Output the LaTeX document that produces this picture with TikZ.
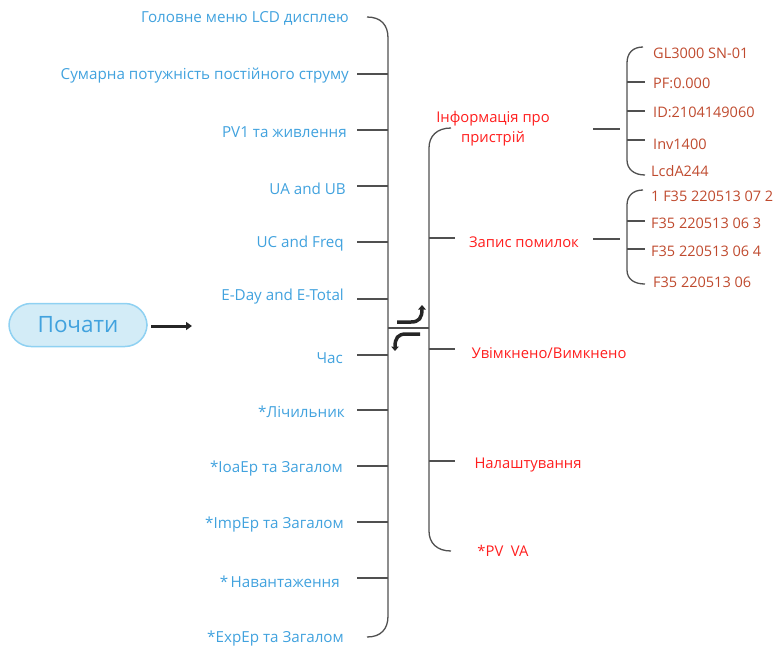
\documentclass[tikz,border=0pt]{standalone}
\usepackage{fontspec}
\setmainfont{Open Sans}
\usetikzlibrary{arrows.meta}
\definecolor{itemblue}{HTML}{41A2DE}
\definecolor{itemred}{HTML}{FF1E1E}
\definecolor{itembrown}{HTML}{BF4A2E}
\definecolor{linegray}{HTML}{505050}
\definecolor{pillfill}{HTML}{D3ECF7}
\definecolor{pilldraw}{HTML}{8FD1F2}
\tikzset{
  lefttxt/.style={anchor=east,text=itemblue,font=\fontsize{15.2}{18}\selectfont,inner sep=0pt,yshift=-1.8pt},
  midtxt/.style={anchor=center,text=itemred,font=\fontsize{14.8}{20}\selectfont,inner sep=0pt,align=center,yshift=-1.8pt},
  subtxt/.style={anchor=west,text=itembrown,font=\fontsize{14.5}{17}\selectfont,inner sep=0pt,yshift=-1pt},
  brk/.style={draw=linegray,line width=1.3pt},
  bigarrow/.style={draw=black!85,line width=3pt,-{Triangle[length=6pt,width=8pt]}},
  turnarrow/.style={draw=black!85,line width=3.5pt,-{Triangle[length=4.5pt,width=7.5pt]}},
  pill/.style={draw=pilldraw,fill=pillfill,line width=1.5pt,rounded corners=22pt,minimum width=138pt,minimum height=43pt,text=itemblue,font=\fontsize{22.5}{26}\selectfont}
}
\begin{document}
\begin{tikzpicture}[x=1pt,y=-1pt]
\useasboundingbox (0,0) rectangle (777,646);
% start node
\node[pill] (start) at (78,325) {Почати};
\coordinate (arrS) at (151,326);
\coordinate (arrE) at (192,326);
\draw[bigarrow] (arrS) -- (arrE);

% left items
\node[lefttxt] (l1) at (349,17) {Головне меню LCD дисплею};
\node[lefttxt] (l2) at (349,74) {Сумарна потужність постійного струму};
\node[lefttxt] (l3) at (347,130) {PV1 та живлення};
\node[lefttxt] (l4) at (346,187) {UA and UB};
\node[lefttxt] (l5) at (344,242) {UC and Freq};
\node[lefttxt] (l6) at (344,295) {E-Day and E-Total};
\node[lefttxt] (l7) at (343,356) {Час};
\node[lefttxt] (l8) at (345,410) {*Лічильник};
\node[lefttxt] (l9) at (343,467) {*IoaEp та Загалом};
\node[lefttxt] (l10) at (344,523) {*ImpEp та Загалом};
\node[lefttxt] (l11) at (340,580) {*\,Навантаження};
\node[lefttxt] (l12) at (344,637) {*ExpEp та Загалом};

% left bracket
\coordinate (lbT) at (367,17);
\coordinate (lbB) at (367,637);
\draw[brk] (lbT) .. controls (381,17) and (388,25) .. (388,38) -- (388,616) .. controls (388,629) and (381,637) .. (lbB);
\foreach \yy in {74,130,186,242,299,355,410,466,522,578}{
  \draw[brk] (357,\yy) -- (388,\yy);
}
\coordinate (jl) at (388,328);
\coordinate (jr) at (429,328);
\draw[brk] (jl) -- (jr);

% turn arrows
\draw[turnarrow] (397,322) -- (411,322) .. controls (419,322) and (422,318) .. (422,305);
\draw[turnarrow] (420,334) -- (406,334) .. controls (398,334) and (395,338) .. (395,351);

% right bracket
\coordinate (rbT) at (451,128);
\coordinate (rbB) at (451,551);
\draw[brk] (rbT) .. controls (437,128) and (429,136) .. (429,148) -- (429,531) .. controls (429,543) and (437,551) .. (rbB);
\foreach \yy in {238,349,461}{
  \draw[brk] (429,\yy) -- (455,\yy);
}

% middle items
\node[midtxt] (m1) at (493,127) {Інформація про\\пристрій};
\node[midtxt] (m2) at (524,240) {Запис помилок};
\node[midtxt] (m3) at (549,351) {Увімкнено/Вимкнено};
\node[midtxt] (m4) at (528,463) {Налаштування};
\node[midtxt] (m5) at (503,549) {*PV\ \ VA};

% sub bracket 1
\draw[brk] (593,129) -- (620,129);
\coordinate (s1T) at (643,47);
\coordinate (s1B) at (645,175);
\draw[brk] (s1T) .. controls (633,47) and (627,53) .. (627,63) -- (627,160) .. controls (627,169) and (634,175) .. (s1B);
\foreach \yy in {82,111,140}{
  \draw[brk] (627,\yy) -- (645,\yy);
}
\node[subtxt] (a1) at (653,52) {GL3000 SN-01};
\node[subtxt] (a2) at (653,82) {PF:0.000};
\node[subtxt] (a3) at (653,111) {ID:2104149060};
\node[subtxt] (a4) at (653,143) {Inv1400};
\node[subtxt] (a5) at (651,170) {LcdA244};

% sub bracket 2
\draw[brk] (593,239) -- (620,239);
\coordinate (s2T) at (643,190);
\coordinate (s2B) at (645,284);
\draw[brk] (s2T) .. controls (633,190) and (627,196) .. (627,205) -- (627,270) .. controls (627,279) and (634,284) .. (s2B);
\foreach \yy in {221,249}{
  \draw[brk] (627,\yy) -- (645,\yy);
}
\node[subtxt] (b1) at (651,195) {1 F35 220513 07 2};
\node[subtxt] (b2) at (651,222) {F35 220513 06 3};
\node[subtxt] (b3) at (651,250) {F35 220513 06 4};
\node[subtxt] (b4) at (653,281) {F35 220513 06};
\end{tikzpicture}
\end{document}
